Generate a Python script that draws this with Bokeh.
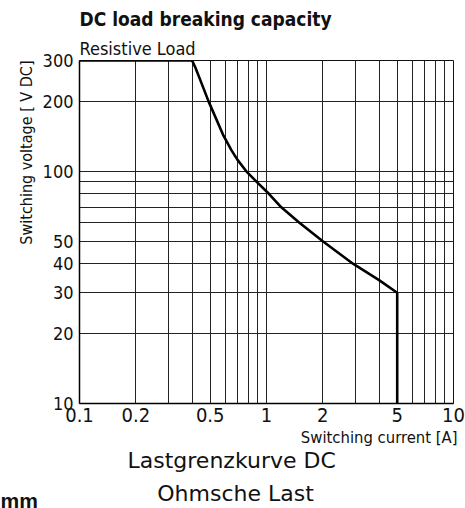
from bokeh.plotting import figure
from bokeh.layouts import column
from bokeh.models import FixedTicker, Label, Range1d, CustomJSTickFormatter, Title
from bokeh.embed import file_html
from bokeh.resources import INLINE

# Curve: switching current [A] vs switching voltage [V DC]
current_a = [0.1, 0.4, 0.417, 0.44, 0.49, 0.585, 0.65, 0.7, 0.78, 0.9, 1.03, 1.2, 1.5, 2.0, 2.9, 4.0, 5.0, 5.0]
voltage_v = [300, 300, 279, 250, 200, 144, 123, 112, 100, 89, 80, 70, 60, 50, 40, 34, 30, 10]

x_tick_labels = [0.1, 0.2, 0.5, 1, 2, 5, 10]
y_tick_labels = [10, 20, 30, 40, 50, 100, 200, 300]
x_grid_values = [0.2, 0.3, 0.4, 0.5, 0.6, 0.7, 0.8, 0.9, 1, 2, 3, 4, 5, 6, 7, 8, 9, 10]
y_grid_values = [20, 30, 40, 50, 60, 70, 80, 90, 100, 200, 300]

title_text = "DC load breaking capacity"
subtitle_text = "Resistive Load"
y_label_text = "Switching voltage [ V DC]"
x_label_text = "Switching current [A]"
caption1 = "Lastgrenzkurve DC"
caption2 = "Ohmsche Last"
fragment_text = "mm"

COND = "'DejaVu Sans Condensed', sans-serif"
SANS = "'DejaVu Sans', sans-serif"
INK = "#111111"

X0, X1 = 0.1, 10
Y0, Y1 = 10, 300

W = 465
TOP_H = 479
BOTTOM_H = 508 - TOP_H
STRIP_SHIFT = 5
STRIP_TOP = TOP_H + STRIP_SHIFT

p = figure(width=W, height=TOP_H,
           x_axis_type="log", y_axis_type="log",
           x_range=Range1d(X0, X1), y_range=Range1d(Y0, Y1),
           output_backend="svg", toolbar_location=None,
           min_border_left=79, min_border_right=12,
           min_border_top=60, min_border_bottom=TOP_H - 403)

p.background_fill_color = "white"
p.border_fill_color = "white"
p.outline_line_color = INK
p.outline_line_width = 1

fmt = CustomJSTickFormatter(code="return String(parseFloat(tick.toPrecision(3)));")

for ax in (p.xaxis[0], p.yaxis[0]):
    ax.major_tick_line_color = None
    ax.minor_tick_line_color = None
    ax.major_tick_out = 0
    ax.major_tick_in = 0
    ax.axis_line_color = "#000000"
    ax.axis_line_width = 1.5
    ax.formatter = fmt
    ax.major_label_text_color = INK

p.xaxis.ticker = FixedTicker(ticks=x_tick_labels)
p.yaxis.ticker = FixedTicker(ticks=y_tick_labels)
p.xaxis.major_label_text_font = COND
p.xaxis.major_label_text_font_size = "20px"
p.xaxis.major_label_standoff = 4
p.yaxis.major_label_text_font = COND
p.yaxis.major_label_text_font_size = "18px"
p.yaxis.major_label_standoff = 6

p.xgrid.ticker = FixedTicker(ticks=x_grid_values)
p.ygrid.ticker = FixedTicker(ticks=y_grid_values)
for g in (p.xgrid[0], p.ygrid[0]):
    g.grid_line_color = "#222222"
    g.grid_line_width = 1
    g.grid_line_alpha = 1

p.line(current_a, voltage_v, line_color="black", line_width=2.6, line_join="round")

# Titles above (first added = closest to the plot)
p.add_layout(Title(text=subtitle_text, align="left", text_font=COND, text_font_size="18px",
                   text_font_style="normal", text_color=INK, standoff=4), "above")
p.add_layout(Title(text=title_text, align="left", text_font=COND, text_font_size="19px",
                   text_font_style="bold", text_color=INK, standoff=7), "above")

# Y axis title, left of the tick labels, aligned to the top of the frame
p.add_layout(Title(text=y_label_text, align="right", text_font=COND, text_font_size="16px",
                   text_font_style="normal", text_color=INK, standoff=8), "left")

# Below the chart: x axis title (right aligned), then the first caption line
p.add_layout(Title(text=x_label_text, align="right", offset=-4, text_font=COND, text_font_size="16.5px",
                   text_font_style="normal", text_color=INK, standoff=2), "below")
p.add_layout(Title(text=caption1, align="left", offset=48, text_font=SANS, text_font_size="22px",
                   text_font_style="normal", text_color=INK, standoff=-3), "below")

# Bottom strip: second caption line and the fragment at the lower-left corner.
# Its frame is aligned with the chart frame (x 79..453), so x is in page pixels, y grows downward.
cap = figure(width=W, height=BOTTOM_H,
             x_range=Range1d(79, 453), y_range=Range1d(BOTTOM_H, 0),
             output_backend="svg", toolbar_location=None,
             min_border=0, x_axis_location=None, y_axis_location=None)
cap.grid.visible = False
cap.outline_line_color = None
cap.background_fill_color = "white"
cap.border_fill_color = "white"

cap.add_layout(Label(x=235, y=498 - STRIP_TOP, text=caption2, text_font=SANS, text_font_size="22px",
                     text_font_style="normal", text_align="center",
                     text_baseline="alphabetic", text_color=INK))

cap.add_layout(Label(x=-42, y=8, x_units="screen", y_units="screen", text=fragment_text,
                     text_font="'Liberation Sans', sans-serif", text_font_size="21px",
                     text_font_style="bold", text_color=INK, text_baseline="alphabetic"), "left")

layout = column(p, cap, spacing=0)
open("out.html", "w").write(file_html(layout, INLINE))
